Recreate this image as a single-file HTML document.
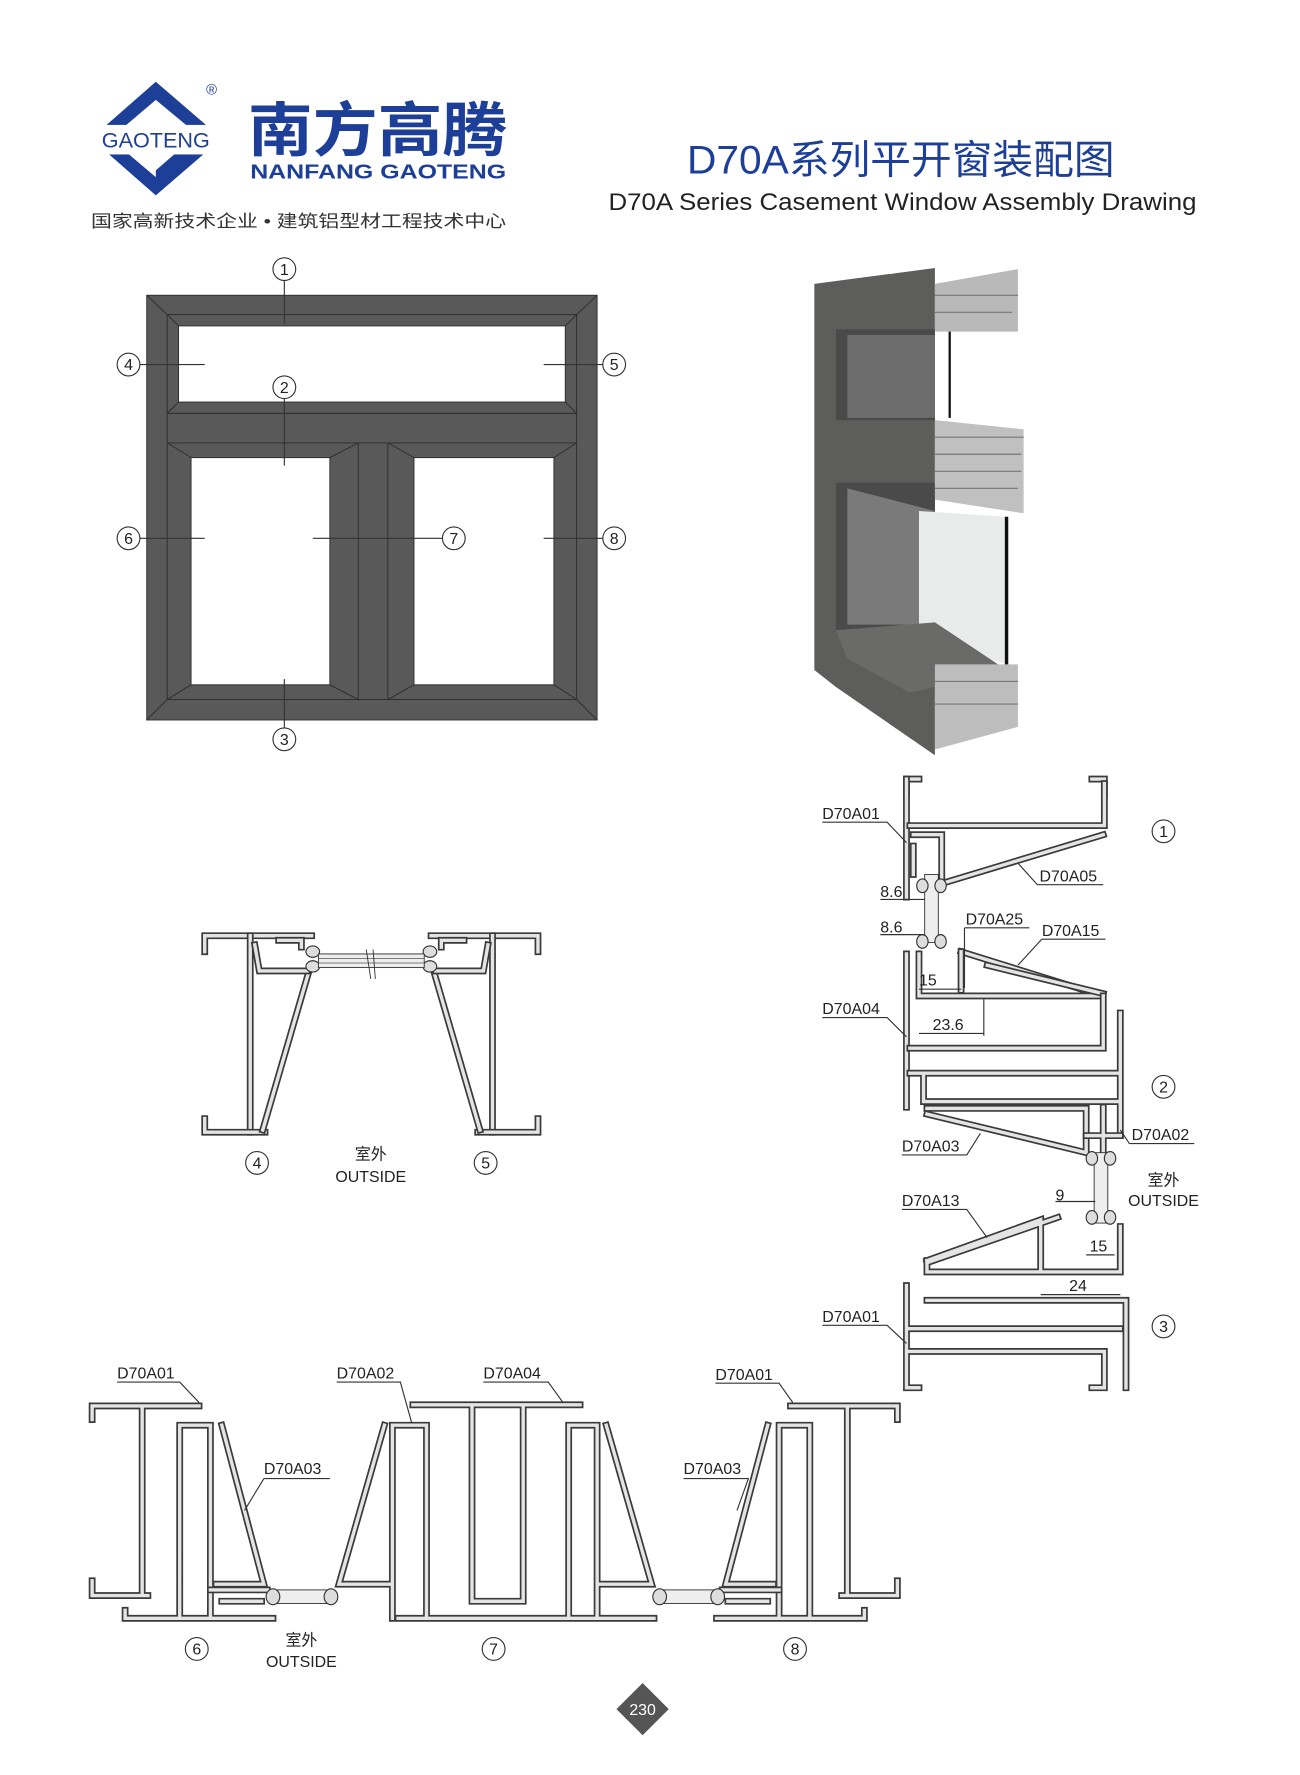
<!DOCTYPE html>
<html><head><meta charset="utf-8"><style>
html,body{margin:0;padding:0;background:#fff;}
svg{display:block}
text{font-family:"Liberation Sans","Noto Sans CJK SC",sans-serif;}
.w{fill:none;stroke:#3a3a3a;stroke-width:6;stroke-linejoin:miter;stroke-linecap:square}
.wi{fill:none;stroke:#e4e4e4;stroke-width:3;stroke-linejoin:miter;stroke-linecap:square}
.l{fill:none;stroke:#333;stroke-width:1}
.lbl{font-size:14px;fill:#222}
.c{fill:#fff;stroke:#333;stroke-width:1}
.cn{font-size:14px;fill:#222;text-anchor:middle}
</style></head><body>
<svg width="1300" height="1775" viewBox="0 0 1143 1563" preserveAspectRatio="none" xmlns="http://www.w3.org/2000/svg">
<defs>
<symbol id="g" overflow="visible">
<rect x="0" y="0" width="10" height="10" fill="#eee" stroke="#333"/>
</symbol>
</defs>
<!-- logo -->
<g>
<polygon points="137,72 195,122 137,172 80,122" fill="#1d3f98"/>
<polygon points="137,88 178,122 137,156 97,122" fill="#fff"/>
<polygon points="137,150 160,130 175,130 137,162" fill="#1d3f98"/>
<rect x="80" y="110" width="115" height="26" fill="#fff"/>
<text x="137" y="130" font-size="19" fill="#1d3f98" text-anchor="middle">GAOTENG</text>
<text x="186" y="83" font-size="13" fill="#1d3f98" text-anchor="middle">®</text>
<text x="218" y="133" font-size="52" font-weight="bold" fill="#1d3f98" textLength="228" lengthAdjust="spacingAndGlyphs">南方高腾</text>
<text x="220" y="157" font-size="18" font-weight="bold" fill="#1d3f98" textLength="225" lengthAdjust="spacingAndGlyphs">NANFANG GAOTENG</text>
<text x="80" y="200" font-size="15" fill="#333" textLength="365" lengthAdjust="spacingAndGlyphs">国家高新技术企业 • 建筑铝型材工程技术中心</text>
</g>
<text x="604" y="153" font-size="35" fill="#1d3f98" textLength="376" lengthAdjust="spacingAndGlyphs">D70A系列平开窗装配图</text>
<text x="535" y="185" font-size="21" fill="#222" textLength="517" lengthAdjust="spacingAndGlyphs">D70A Series Casement Window Assembly Drawing</text>

<!-- elevation -->
<g stroke="#2c2c2c" stroke-width="0.8">
<rect x="129" y="260" width="396" height="374" fill="#595959"/>
<rect x="147" y="277" width="360" height="339" fill="#595959"/>
<line x1="129" y1="260" x2="147" y2="277"/><line x1="525" y1="260" x2="507" y2="277"/>
<line x1="129" y1="634" x2="147" y2="616"/><line x1="525" y1="634" x2="507" y2="616"/>
<rect x="157" y="287" width="340" height="67" fill="#fff"/>
<line x1="147" y1="277" x2="157" y2="287"/><line x1="507" y1="277" x2="497" y2="287"/>
<line x1="147" y1="364" x2="157" y2="354"/><line x1="507" y1="364" x2="497" y2="354"/>
<line x1="147" y1="364" x2="507" y2="364"/><line x1="147" y1="390" x2="507" y2="390"/>
<rect x="168" y="403" width="122" height="200" fill="#fff"/>
<rect x="364" y="403" width="123" height="200" fill="#fff"/>
<line x1="147" y1="390" x2="168" y2="403"/><line x1="147" y1="616" x2="168" y2="603"/>
<line x1="315" y1="390" x2="290" y2="403"/><line x1="315" y1="616" x2="290" y2="603"/>
<line x1="341" y1="390" x2="364" y2="403"/><line x1="341" y1="616" x2="364" y2="603"/>
<line x1="507" y1="390" x2="487" y2="403"/><line x1="507" y1="616" x2="487" y2="603"/>
<line x1="315" y1="390" x2="315" y2="616"/><line x1="341" y1="390" x2="341" y2="616"/>
</g>
<g class="l">
<line x1="250" y1="247" x2="250" y2="285"/><line x1="250" y1="351" x2="250" y2="410"/><line x1="250" y1="598" x2="250" y2="641"/>
<line x1="123" y1="321" x2="180" y2="321"/><line x1="478" y1="321" x2="530" y2="321"/>
<line x1="123" y1="474" x2="180" y2="474"/><line x1="275" y1="474" x2="389" y2="474"/><line x1="478" y1="474" x2="530" y2="474"/>
</g>
<g>
<circle class="c" cx="250" cy="237" r="10"/><text class="cn" x="250" y="242">1</text>
<circle class="c" cx="250" cy="341" r="10"/><text class="cn" x="250" y="346">2</text>
<circle class="c" cx="250" cy="651" r="10"/><text class="cn" x="250" y="656">3</text>
<circle class="c" cx="113" cy="321" r="10"/><text class="cn" x="113" y="326">4</text>
<circle class="c" cx="540" cy="321" r="10"/><text class="cn" x="540" y="326">5</text>
<circle class="c" cx="113" cy="474" r="10"/><text class="cn" x="113" y="479">6</text>
<circle class="c" cx="399" cy="474" r="10"/><text class="cn" x="399" y="479">7</text>
<circle class="c" cx="540" cy="474" r="10"/><text class="cn" x="540" y="479">8</text>
</g>

<!-- 3D render -->
<g>
<polygon points="716,250 822,236 822,665 735,605 716,590" fill="#5d5d5b"/>
<polygon points="735,290 822,290 822,370 735,370" fill="#4a4a4a"/>
<polygon points="745,295 822,295 822,368 745,368" fill="#6c6c6c"/>
<polygon points="735,425 822,425 822,555 735,555" fill="#4a4a4a"/>
<polygon points="745,430 822,450 822,550 745,550" fill="#7a7a7a"/>
<polygon points="808,450 885,455 885,585 808,560" fill="#e8ebea"/>
<polygon points="735,555 822,548 885,590 800,610 745,580" fill="#6a6a68"/>
<polygon points="822,250 895,237 895,292 822,292" fill="#b9b9b9"/>
<polygon points="822,370 900,378 900,452 822,440" fill="#c0c0c0"/>
<polygon points="822,585 895,585 895,640 822,660" fill="#bdbdbd"/>
<g stroke="#777" stroke-width="1" fill="none">
<path d="M822,260 H895 M822,275 H890 M822,385 H900 M822,400 H898 M822,415 H898 M822,430 H895 M822,600 H895 M822,620 H895"/>
</g>
<line x1="835" y1="292" x2="835" y2="368" stroke="#111" stroke-width="2"/>
<line x1="885" y1="455" x2="885" y2="585" stroke="#111" stroke-width="3"/>
</g>

<!-- section 4/5 -->
<g id="s4">
<path class="w" d="M180,838 V824 H274"/><path class="wi" d="M180,838 V824 H274"/>
<path class="w" d="M220,824 V997"/><path class="wi" d="M220,824 V997"/>
<path class="w" d="M180,985 V997 H233"/><path class="wi" d="M180,985 V997 H233"/>
<path class="w" d="M272,854 L231,995"/><path class="wi" d="M272,854 L231,995"/>
<path class="w" d="M224,832 L228,855 H270"/><path class="wi" d="M224,832 L228,855 H270"/>
<path class="w" d="M245,828 H265 V834"/><path class="wi" d="M245,828 H265 V834"/>
<ellipse cx="275" cy="838" rx="6" ry="5" fill="#ddd" stroke="#333"/>
<ellipse cx="275" cy="851" rx="6" ry="5" fill="#ddd" stroke="#333"/>
</g>
<use href="#s4" transform="translate(653,0) scale(-1,1)"/>
<rect x="280" y="840" width="93" height="12" fill="#eee" stroke="#333" stroke-width="0.8"/>
<path d="M280,844H373M280,848H373" stroke="#555" stroke-width="0.6"/>
<path d="M322,836 L326,862 M328,836 L330,862" stroke="#333" stroke-width="0.8"/>
<circle class="c" cx="226" cy="1024" r="10"/><text class="cn" x="226" y="1029">4</text>
<circle class="c" cx="427" cy="1024" r="10"/><text class="cn" x="427" y="1029">5</text>
<text class="cn" x="326" y="1021">室外</text>
<text class="cn" x="326" y="1041">OUTSIDE</text>

<!-- right vertical section -->
<g>
<path class="w" d="M797,700 V686 H808"/><path class="wi" d="M797,700 V686 H808"/>
<path class="w" d="M797,686 V790"/><path class="wi" d="M797,686 V790"/>
<path class="w" d="M960,686 H971 V700"/><path class="wi" d="M960,686 H971 V700"/>
<path class="w" d="M971,690 V727 H800"/><path class="wi" d="M971,690 V727 H800"/>
<path class="w" d="M803,735 H828 V778 L970,735"/><path class="wi" d="M803,735 H828 V778 L970,735"/>
<path class="w" d="M803,745 V770"/><path class="wi" d="M803,745 V770"/>
<rect x="813" y="770" width="12" height="60" fill="#eee" stroke="#333" stroke-width="0.8"/>
<ellipse cx="811" cy="780" rx="5" ry="6" fill="#ddd" stroke="#333"/><ellipse cx="827" cy="780" rx="5" ry="6" fill="#ddd" stroke="#333"/>
<ellipse cx="811" cy="829" rx="5" ry="6" fill="#ddd" stroke="#333"/><ellipse cx="827" cy="829" rx="5" ry="6" fill="#ddd" stroke="#333"/>
<path class="w" d="M797,840 V975"/><path class="wi" d="M797,840 V975"/>
<path class="w" d="M808,840 V877 H970 L845,838"/><path class="wi" d="M808,840 V877 H970 L845,838"/>
<path class="w" d="M845,838 V872 M868,850 L970,875"/><path class="wi" d="M845,838 V872 M868,850 L970,875"/>
<path class="w" d="M800,923 H970 V877"/><path class="wi" d="M800,923 H970 V877"/>
<path class="w" d="M800,945 H985 M812,970 H985 M812,945 V970 M985,892 V1000"/><path class="wi" d="M800,945 H985 M812,970 H985 M812,945 V970 M985,892 V1000"/>
<path class="w" d="M815,976 H955 V1015 L815,981"/><path class="wi" d="M815,976 H955 V1015 L815,981"/>
<path class="w" d="M955,1000 H985 M970,975 V1015"/><path class="wi" d="M955,1000 H985 M970,975 V1015"/>
<rect x="962" y="1015" width="12" height="62" fill="#eee" stroke="#333" stroke-width="0.8"/>
<ellipse cx="960" cy="1020" rx="5" ry="6" fill="#ddd" stroke="#333"/><ellipse cx="976" cy="1020" rx="5" ry="6" fill="#ddd" stroke="#333"/>
<ellipse cx="960" cy="1072" rx="5" ry="6" fill="#ddd" stroke="#333"/><ellipse cx="976" cy="1072" rx="5" ry="6" fill="#ddd" stroke="#333"/>
<path class="w" d="M815,1110 L915,1074 V1118 M930,1072 L815,1112 M815,1110 V1120 H985 V1080"/><path class="wi" d="M815,1110 L915,1074 V1118 M930,1072 L815,1112 M815,1110 V1120 H985 V1080"/>
<path class="w" d="M815,1145 H990 V1222 M797,1132 V1222 H808 M960,1222 H971 V1190 H797 M797,1170 H985"/><path class="wi" d="M815,1145 H990 V1222 M797,1132 V1222 H808 M960,1222 H971 V1190 H797 M797,1170 H985"/>
</g>
<g class="l">
<path d="M723,724 H780 L797,742"/><path d="M912,779 H970 M912,779 L895,760"/>
<path d="M774,792 H813"/><path d="M774,823 H813"/>
<path d="M848,817 H905 M848,817 V870"/><path d="M916,827 H972 M916,827 L895,850"/>
<path d="M808,871 H845"/><path d="M723,896 H780 L797,913"/>
<path d="M808,910 H865 M865,880 V912"/>
<path d="M793,1017 H850 L862,998"/><path d="M993,1007 H1050 M993,1007 L985,995"/>
<path d="M928,1058 H963"/><path d="M793,1065 H850 L868,1090"/>
<path d="M955,1105 H980"/><path d="M915,1140 H985"/>
<path d="M723,1167 H780 L797,1183"/>
</g>
<g class="lbl">
<text x="723" y="721">D70A01</text><text x="914" y="776">D70A05</text>
<text x="774" y="790">8.6</text><text x="774" y="821">8.6</text>
<text x="849" y="814">D70A25</text><text x="916" y="824">D70A15</text>
<text x="808" y="868">15</text><text x="723" y="893">D70A04</text><text x="820" y="907">23.6</text>
<text x="793" y="1014">D70A03</text><text x="995" y="1004">D70A02</text>
<text x="928" y="1057">9</text><text x="793" y="1062">D70A13</text>
<text x="958" y="1102">15</text><text x="940" y="1137">24</text>
<text x="723" y="1164">D70A01</text>
<text x="1023" y="1044" text-anchor="middle">室外</text><text x="1023" y="1062" text-anchor="middle">OUTSIDE</text>
</g>
<circle class="c" cx="1023" cy="732" r="10"/><text class="cn" x="1023" y="737">1</text>
<circle class="c" cx="1023" cy="957" r="10"/><text class="cn" x="1023" y="962">2</text>
<circle class="c" cx="1023" cy="1168" r="10"/><text class="cn" x="1023" y="1173">3</text>

<!-- bottom section -->
<g id="b6">
<path class="w" d="M81,1250 V1238 H175 M125,1238 V1405 M81,1392 V1405 H130 M110,1425 H240 M110,1418 V1425 M158,1255 V1425 M158,1255 H185 V1425 M195,1255 L232,1395 H190"/>
<path class="wi" d="M81,1250 V1238 H175 M125,1238 V1405 M81,1392 V1405 H130 M110,1425 H240 M110,1418 V1425 M158,1255 V1425 M158,1255 H185 V1425 M195,1255 L232,1395 H190"/>
<path class="w" d="M185,1400 H235 M195,1410 H230"/><path class="wi" d="M185,1400 H235 M195,1410 H230"/>
</g>
<use href="#b6" transform="translate(870,0) scale(-1,1)"/>
<g>
<path class="w" d="M363,1237 H510 M415,1237 V1410 H460 V1237 M350,1425 H575 M345,1255 V1425 M375,1255 V1425 M345,1255 H375 M500,1255 V1425 M525,1255 V1425 M500,1255 H525 M338,1255 L298,1395 H345 M533,1255 L573,1395 H525"/>
<path class="wi" d="M363,1237 H510 M415,1237 V1410 H460 V1237 M350,1425 H575 M345,1255 V1425 M375,1255 V1425 M345,1255 H375 M500,1255 V1425 M525,1255 V1425 M500,1255 H525 M338,1255 L298,1395 H345 M533,1255 L573,1395 H525"/>
</g>
<g fill="#eee" stroke="#333" stroke-width="0.8">
<rect x="238" y="1400" width="55" height="12"/><rect x="578" y="1400" width="55" height="12"/>
</g>
<g fill="#ddd" stroke="#333">
<ellipse cx="240" cy="1406" rx="6" ry="7"/><ellipse cx="291" cy="1406" rx="6" ry="7"/>
<ellipse cx="580" cy="1406" rx="6" ry="7"/><ellipse cx="631" cy="1406" rx="6" ry="7"/>
</g>
<g class="l">
<path d="M103,1217 H158 L175,1235"/><path d="M232,1302 H290 M232,1302 L215,1330"/>
<path d="M296,1217 H352 L362,1253"/><path d="M425,1217 H482 L495,1235"/>
<path d="M601,1302 H658 L648,1330"/><path d="M629,1218 H685 L697,1235"/>
</g>
<g class="lbl">
<text x="103" y="1214">D70A01</text><text x="232" y="1298">D70A03</text>
<text x="296" y="1214">D70A02</text><text x="425" y="1214">D70A04</text>
<text x="601" y="1298">D70A03</text><text x="629" y="1215">D70A01</text>
<text x="265" y="1449" text-anchor="middle">室外</text><text x="265" y="1468" text-anchor="middle">OUTSIDE</text>
</g>
<circle class="c" cx="173" cy="1452" r="10"/><text class="cn" x="173" y="1457">6</text>
<circle class="c" cx="434" cy="1452" r="10"/><text class="cn" x="434" y="1457">7</text>
<circle class="c" cx="699" cy="1452" r="10"/><text class="cn" x="699" y="1457">8</text>

<polygon points="565,1482 588,1505 565,1528 542,1505" fill="#555"/>
<text x="565" y="1510" font-size="14" fill="#fff" text-anchor="middle">230</text>
</svg>
</body></html>
